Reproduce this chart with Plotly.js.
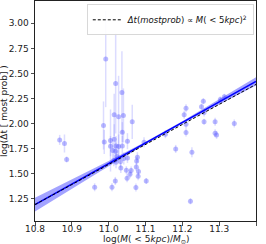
<!DOCTYPE html>
<html>
<head>
<meta charset="utf-8">
<script src="https://cdn.plot.ly/plotly-3.0.1.min.js"></script>
<style>html,body{margin:0;padding:0;background:#fff;}#chart{width:266px;height:244px;}</style>
</head>
<body>
<div id="chart"></div>
<script>
// Data points: log M(<5kpc) vs log Δt, with vertical errors
const logM = [10.992, 11.019, 11.036, 11.015, 11.027, 11.040, 11.064, 10.986, 11.037, 10.867,
  10.880, 10.886, 10.988, 11.005, 11.015, 11.051, 11.005, 11.027, 11.037, 11.011,
  11.019, 11.022, 11.051, 11.078, 11.076, 11.096, 11.020, 11.033, 11.048, 11.061,
  11.075, 11.058, 11.050, 11.080, 11.018, 11.102, 10.962, 11.009, 11.074, 11.154,
  11.182, 11.226, 11.222, 11.210, 11.205, 11.210, 11.210, 11.257, 11.252, 11.259,
  11.259, 11.289, 11.289, 11.293, 11.341, 11.303, 11.314, 11.020, 11.014, 11.032,
  11.041, 11.081];
const logDt = [2.643, 2.400, 2.310, 2.086, 2.066, 2.080, 2.016, 1.980, 1.913, 1.836,
  1.800, 1.640, 1.816, 1.830, 1.843, 1.823, 1.773, 1.770, 1.776, 1.730,
  1.723, 1.670, 1.656, 1.663, 1.626, 1.813, 1.613, 1.556, 1.533, 1.530,
  1.566, 1.493, 1.453, 1.473, 1.426, 1.426, 1.363, 1.363, 1.360, 1.893,
  1.746, 1.713, 1.223, 2.153, 2.086, 1.993, 1.910, 2.223, 2.166, 2.110,
  2.016, 2.016, 1.903, 1.886, 2.000, 2.240, 2.266, 1.776, 1.633, 1.620,
  1.650, 1.520];
const errDt = [0.48, 0.50, 0.41, 0.21, 0.41, 0.27, 0.17, 0.24, 0.10, 0.05,
  0.09, 0.03, 0.12, 0.31, 0.15, 0.08, 0.10, 0.12, 0.10, 0.08,
  0.10, 0.06, 0.05, 0.05, 0.04, 0.05, 0.06, 0.05, 0.04, 0.04,
  0.04, 0.04, 0.04, 0.04, 0.04, 0.03, 0.04, 0.04, 0.04, 0.04,
  0.04, 0.05, 0.03, 0.04, 0.04, 0.04, 0.04, 0.03, 0.03, 0.04,
  0.03, 0.04, 0.04, 0.04, 0.04, 0.03, 0.03, 0.10, 0.06, 0.06,
  0.06, 0.04];

// Fit line and its confidence band
const fitX = [10.8, 10.9, 11.0, 11.1, 11.2, 11.3, 11.4];
const fitY = [1.190, 1.395, 1.600, 1.805, 2.010, 2.215, 2.420];
const bandHalf = [0.068, 0.046, 0.026, 0.012, 0.012, 0.026, 0.042];
// Δt ∝ M^2 reference line
const refX = [10.8, 11.4];
const refY = [1.190, 2.390];

const xTicks = [10.8, 10.9, 11.0, 11.1, 11.2, 11.3, 11.4];
const yTicks = [1.25, 1.50, 1.75, 2.00, 2.25, 2.50, 2.75, 3.00];

const xTitle = 'log(<i>M</i>( < 5<i>kpc</i>)/<i>M</i><sub>⊙</sub>)';
const yTitle = 'log(Δt [ most prob] )';
const legendLabel = '<i>Δt</i>(<i>mostprob</i>) ∝ <i>M</i>( < 5<i>kpc</i>)<sup>2</sup>';

const bandLo = fitY.map((v, i) => v - bandHalf[i]);
const bandHi = fitY.map((v, i) => v + bandHalf[i]);

const FONT = 'DejaVu Sans, sans-serif';

const traces = [
  {
    x: logM, y: logDt, type: 'scatter', mode: 'markers', showlegend: false,
    marker: {size: 5, color: 'rgba(90,90,255,0.42)', line: {width: 0}},
    error_y: {type: 'data', array: errDt, visible: true, color: 'rgba(120,120,255,0.26)', thickness: 1.5, width: 0},
    hoverinfo: 'skip'
  },
  {
    x: fitX, y: bandLo, type: 'scatter', mode: 'lines', line: {width: 0, color: 'rgba(0,0,255,0)'},
    showlegend: false, hoverinfo: 'skip'
  },
  {
    x: fitX, y: bandHi, type: 'scatter', mode: 'lines', line: {width: 0, color: 'rgba(0,0,255,0)'},
    fill: 'tonexty', fillcolor: 'rgba(0,0,255,0.36)', showlegend: false, hoverinfo: 'skip'
  },
  {
    x: fitX, y: fitY, type: 'scatter', mode: 'lines', line: {width: 1.6, color: '#0000ff'},
    showlegend: false, hoverinfo: 'skip'
  },
  {
    x: refX, y: refY, type: 'scatter', mode: 'lines', line: {width: 1, color: '#000000', dash: '3px,2px'},
    name: legendLabel, showlegend: true
  }
];

const axisCommon = {
  showgrid: false, zeroline: false, showline: true, mirror: true,
  linecolor: '#222', linewidth: 1, ticks: 'outside', ticklen: 3.5, tickwidth: 0.8, tickcolor: '#222',
  tickfont: {family: FONT, size: 9, color: '#222'}
};

const layout = {
  width: 266, height: 244,
  margin: {l: 35, r: 10, t: 1, b: 23, pad: 0},
  paper_bgcolor: '#fff', plot_bgcolor: '#fff',
  font: {family: FONT, size: 9, color: '#222'},
  xaxis: Object.assign({}, axisCommon, {
    range: [10.8, 11.4], tickmode: 'array', tickvals: xTicks, ticktext: xTicks.map(v => v.toFixed(1)),
    ticklabelstandoff: -4
  }),
  yaxis: Object.assign({}, axisCommon, {
    range: [1.026, 3.223], tickmode: 'array', tickvals: yTicks, ticktext: yTicks.map(v => v.toFixed(2))
  }),
  annotations: [
    {text: xTitle, xref: 'paper', yref: 'paper', x: 0.5, y: 0, xanchor: 'center', yanchor: 'top',
     yshift: -11, showarrow: false, font: {family: FONT, size: 9, color: '#222'}},
    {text: yTitle, xref: 'paper', yref: 'paper', x: 0, y: 0.5, xanchor: 'right', yanchor: 'middle',
     xshift: -24, textangle: -90, showarrow: false, font: {family: FONT, size: 9, color: '#222'}}
  ],
  legend: {
    x: 0.99, y: 0.985, xanchor: 'right', yanchor: 'top',
    bgcolor: 'rgba(255,255,255,0.9)', bordercolor: '#d8d8d8', borderwidth: 1,
    font: {family: FONT, size: 8.5, color: '#111'},
    itemwidth: 30, tracegroupgap: 0
  }
};

Plotly.newPlot('chart', traces, layout, {staticPlot: true, displayModeBar: false});
</script>
</body>
</html>
